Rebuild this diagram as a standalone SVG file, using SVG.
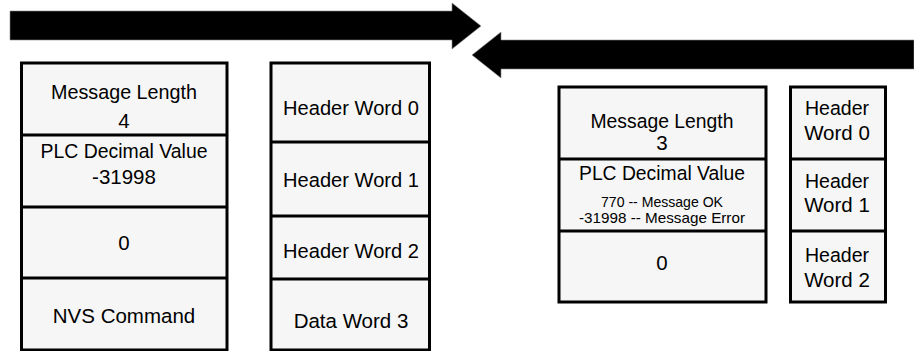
<svg xmlns="http://www.w3.org/2000/svg" width="914" height="351" viewBox="0 0 914 351">
<style>
.box{fill:#f6f6f6;stroke:#000;stroke-width:3}
.div{stroke:#000;stroke-width:3;fill:none}
.arrow{fill:#000;stroke:#888;stroke-width:0.6}
text{font-family:"Liberation Sans",Arial,Helvetica,sans-serif;font-size:20.5px;fill:#000;text-anchor:middle}
.sm{font-size:14.5px}
</style>
<rect width="914" height="351" fill="#fff"/>
<g id="connectors">
<polygon class="arrow" points="10,11 452,11 452,3 481,26 452,49 452,40 10,40"/>
<polygon class="arrow" points="914,40 501,40 501,32 472,55 501,78 501,69 914,69"/>
</g>
<g id="request-table">
<rect class="box" x="21.5" y="63" width="205.5" height="287"/>
<line class="div" x1="21.5" y1="135" x2="227" y2="135"/>
<line class="div" x1="21.5" y1="207" x2="227" y2="207"/>
<line class="div" x1="21.5" y1="278" x2="227" y2="278"/>
<text x="124" y="99" textLength="146" lengthAdjust="spacingAndGlyphs">Message Length</text>
<text x="124" y="128">4</text>
<text x="124" y="158" textLength="167" lengthAdjust="spacingAndGlyphs">PLC Decimal Value</text>
<text x="124" y="184">-31998</text>
<text x="124" y="250">0</text>
<text x="124" y="323">NVS Command</text>
</g>
<g id="request-words">
<rect class="box" x="271" y="63" width="158.5" height="287"/>
<line class="div" x1="271" y1="142" x2="429.5" y2="142"/>
<line class="div" x1="271" y1="216" x2="429.5" y2="216"/>
<line class="div" x1="271" y1="279" x2="429.5" y2="279"/>
<text x="351" y="115" textLength="136" lengthAdjust="spacingAndGlyphs">Header Word 0</text>
<text x="351" y="187" textLength="136" lengthAdjust="spacingAndGlyphs">Header Word 1</text>
<text x="351" y="258" textLength="136" lengthAdjust="spacingAndGlyphs">Header Word 2</text>
<text x="351" y="328">Data Word 3</text>
</g>
<g id="reply-table">
<rect class="box" x="559" y="87" width="207" height="215"/>
<line class="div" x1="559" y1="159" x2="766" y2="159"/>
<line class="div" x1="559" y1="231" x2="766" y2="231"/>
<text x="662" y="128" textLength="143" lengthAdjust="spacingAndGlyphs">Message Length</text>
<text x="662" y="150">3</text>
<text x="662" y="180" textLength="166" lengthAdjust="spacingAndGlyphs">PLC Decimal Value</text>
<text class="sm" x="662" y="207" textLength="122" lengthAdjust="spacingAndGlyphs">770 -- Message OK</text>
<text class="sm" x="662" y="222.5" textLength="166" lengthAdjust="spacingAndGlyphs">-31998 -- Message Error</text>
<text x="662" y="270">0</text>
</g>
<g id="reply-words">
<rect class="box" x="790.5" y="87" width="95" height="215"/>
<line class="div" x1="790.5" y1="159" x2="885.5" y2="159"/>
<line class="div" x1="790.5" y1="231" x2="885.5" y2="231"/>
<text x="837" y="115" textLength="64" lengthAdjust="spacingAndGlyphs">Header</text>
<text x="837" y="140">Word 0</text>
<text x="837" y="188" textLength="64" lengthAdjust="spacingAndGlyphs">Header</text>
<text x="837" y="212">Word 1</text>
<text x="837" y="262" textLength="64" lengthAdjust="spacingAndGlyphs">Header</text>
<text x="837" y="287">Word 2</text>
</g>
</svg>
